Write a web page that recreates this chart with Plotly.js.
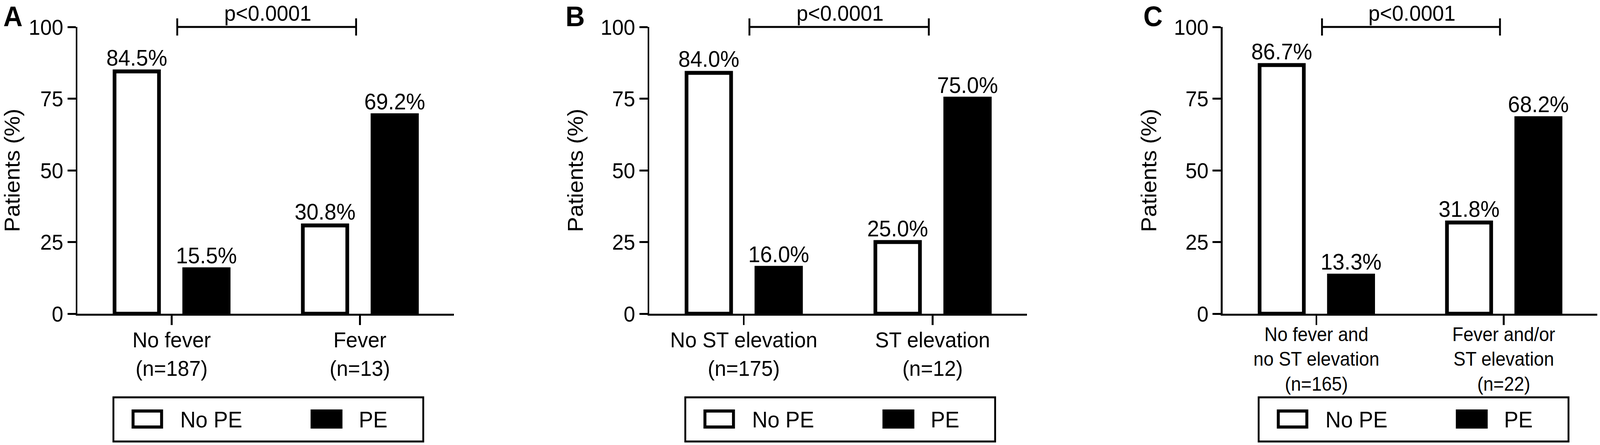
<!DOCTYPE html>
<html>
<head>
<meta charset="utf-8">
<script src="https://cdn.plot.ly/plotly-3.0.1.min.js"></script>
<style>
  html, body { margin: 0; padding: 0; background: #fff; overflow: hidden; }
  /* viewport is only 4096 wide, so squeeze the 4317-wide figure to fit */
  #wrap { width: 4096px; height: 1139px; overflow: hidden; }
  #chart { width: 4317px; height: 1139px; transform: scale(0.948807, 1); transform-origin: 0 0; }
</style>
</head>
<body>
<div id="wrap"><div id="chart"></div></div>
<script>
// data
var seriesNames = ['No PE', 'PE'];

var catsA = ['No fever<br>(n=187)', 'Fever<br>(n=13)'];
var noPeA = [84.5, 30.8];
var peA = [15.5, 69.2];

var catsB = ['No ST elevation<br>(n=175)', 'ST elevation<br>(n=12)'];
var noPeB = [84.0, 25.0];
var peB = [16.0, 75.0];

var catsC = ['No fever and<br>no ST elevation<br>(n=165)', 'Fever and/or<br>ST elevation<br>(n=22)'];
var noPeC = [86.7, 31.8];
var peC = [13.3, 68.2];

var panelLetters = ['A', 'B', 'C'];
var pText = 'p<0.0001';
var yTicks = [0, 25, 50, 75, 100];

var W = 4317, H = 1139;
var FONT = 'Liberation Sans, Arial, sans-serif';
function px(x) { return x / W; }
function py(y) { return 1 - y / H; }

// pixel spans of each x axis
var axisPx = [[209, 1225], [1752, 2771], [3299, 4310]];
var letterPx = [7, 1524, 3083];
var panels = [
  { cats: catsA, noPe: noPeA, pe: peA, tick: 56, shift: -10 },
  { cats: catsB, noPe: noPeB, pe: peB, tick: 56, shift: -10 },
  { cats: catsC, noPe: noPeC, pe: peC, tick: 49, shift: -18 }
];

var data = [];
var layout = {
  width: W, height: H,
  margin: { l: 0, r: 0, t: 0, b: 0 },
  paper_bgcolor: 'white',
  plot_bgcolor: 'white',
  showlegend: false,
  barmode: 'group',
  font: { family: FONT, color: 'black', size: 56 },
  shapes: [],
  annotations: []
};

panels.forEach(function (p, i) {
  var n = i === 0 ? '' : String(i + 1);
  var xa = 'x' + n, ya = 'y' + n;

  data.push({
    type: 'bar', name: seriesNames[0], x: p.cats, y: p.noPe,
    xaxis: xa, yaxis: ya, width: 0.236, offset: -0.303,
    marker: { color: 'white', line: { color: 'black', width: 10 } },
    texttemplate: '%{y:.1f}%', textposition: 'outside', constraintext: 'none',
    cliponaxis: false, textfont: { size: 58, color: 'black', family: FONT },
    hoverinfo: 'skip'
  });
  data.push({
    type: 'bar', name: seriesNames[1], x: p.cats, y: p.pe,
    xaxis: xa, yaxis: ya, width: 0.236, offset: 0.067,
    marker: { color: 'black', line: { color: 'black', width: 10 } },
    texttemplate: '%{y:.1f}%', textposition: 'outside', constraintext: 'none',
    cliponaxis: false, textfont: { size: 58, color: 'black', family: FONT },
    hoverinfo: 'skip'
  });

  layout['xaxis' + n] = {
    domain: [px(axisPx[i][0]), px(axisPx[i][1])],
    anchor: ya, type: 'category', range: [-0.5, 1.5],
    showline: true, linewidth: 5, linecolor: 'black',
    ticks: 'outside', ticklen: 24, tickwidth: 5, tickcolor: 'black',
    ticklabelstandoff: p.shift,
    showgrid: false, zeroline: false, fixedrange: true,
    tickfont: { size: p.tick, family: FONT, color: 'black' }
  };
  layout['yaxis' + n] = {
    domain: [py(803), py(69)],
    anchor: xa, range: [0, 100], tickvals: yTicks,
    showline: true, linewidth: 5, linecolor: 'black',
    ticks: 'outside', ticklen: 22, tickwidth: 5, tickcolor: 'black',
    showgrid: false, zeroline: false, fixedrange: true,
    tickfont: { size: 56, family: FONT, color: 'black' },
    title: { text: 'Patients (%)', font: { size: 58, family: FONT, color: 'black' }, standoff: 30 }
  };

  // significance bracket
  layout.shapes.push(
    { type: 'line', xref: xa, yref: 'paper', x0: 0.03, x1: 0.98, y0: py(69), y1: py(69), line: { color: 'black', width: 5 } },
    { type: 'line', xref: xa, yref: 'paper', x0: 0.03, x1: 0.03, y0: py(47), y1: py(91), line: { color: 'black', width: 5 } },
    { type: 'line', xref: xa, yref: 'paper', x0: 0.98, x1: 0.98, y0: py(47), y1: py(91), line: { color: 'black', width: 5 } }
  );
  layout.annotations.push({
    xref: xa, yref: 'paper', x: 0.51, y: py(0), xanchor: 'center', yanchor: 'top',
    text: pText, showarrow: false, font: { size: 56, family: FONT, color: 'black' }
  });

  // panel letter
  layout.annotations.push({
    xref: 'paper', yref: 'paper', x: px(letterPx[i]), y: py(0), xanchor: 'left', yanchor: 'top',
    text: '<b>' + panelLetters[i] + '</b>', showarrow: false,
    font: { size: 72, family: FONT, color: 'black' }
  });

  // legend box drawn by hand (plotly bar swatches are fixed-size)
  var bx = axisPx[i][0] + 97;
  layout.shapes.push(
    { type: 'rect', layer: 'below', xref: 'paper', yref: 'paper', x0: px(bx), x1: px(bx + 836), y0: py(1017), y1: py(1130), line: { color: 'black', width: 5 }, fillcolor: 'white' },
    { type: 'rect', xref: 'paper', yref: 'paper', x0: px(bx + 53), x1: px(bx + 130), y0: py(1052), y1: py(1093), line: { color: 'black', width: 8 }, fillcolor: 'white' },
    { type: 'rect', xref: 'paper', yref: 'paper', x0: px(bx + 536), x1: px(bx + 614), y0: py(1052), y1: py(1093), line: { color: 'black', width: 8 }, fillcolor: 'black' }
  );
  layout.annotations.push(
    { xref: 'paper', yref: 'paper', x: px(bx + 178), y: py(1073), xanchor: 'left', yanchor: 'middle', text: seriesNames[0], showarrow: false, font: { size: 58, family: FONT, color: 'black' } },
    { xref: 'paper', yref: 'paper', x: px(bx + 660), y: py(1073), xanchor: 'left', yanchor: 'middle', text: seriesNames[1], showarrow: false, font: { size: 58, family: FONT, color: 'black' } }
  );
});

Plotly.newPlot('chart', data, layout, { staticPlot: true, displayModeBar: false });
</script>
</body>
</html>
